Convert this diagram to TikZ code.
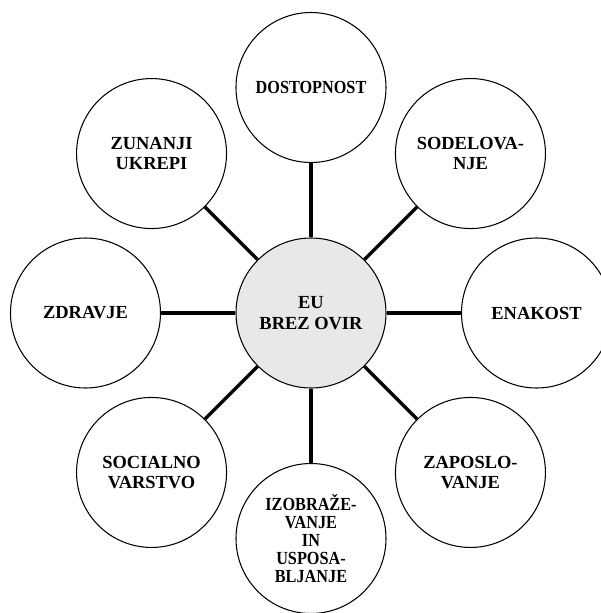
\documentclass[tikz,border=0pt]{standalone}
\usepackage{fontspec}
\setmainfont{Liberation Serif}
\newfontfamily\tightfont[FakeStretch=0.88]{Liberation Serif}
\definecolor{hubgray}{RGB}{232,232,232}
\begin{document}
\begin{tikzpicture}[line join=round, line cap=round]
	\tikzset{topic/.style={circle, draw, line width=0.6pt, minimum size=3cm, inner sep=0pt, align=center, fill=white, font=\bfseries\fontsize{10.5}{11.8}\selectfont},
		hub/.style={topic, fill=hubgray},
		spoke/.style={line width=2pt, line cap=butt}}
	\useasboundingbox (-6.22,-6.00) rectangle (5.80,6.26);
	% centre and the eight topics round it
	\node[hub] (hub) at (0,0) {EU\\BREZ OVIR};
	\node[topic] (dostop) at (90:4.51) {{\tightfont DOSTOPNOST}};
	\node[topic] (sodel) at (45:4.51) {SODELOVA-\\NJE};
	\node[topic] (enak) at (0:4.51) {ENAKOST};
	\node[topic] (zapos) at (-45:4.51) {ZAPOSLO-\\VANJE};
	\node[topic, font=\bfseries\tightfont\fontsize{10.5}{10.2}\selectfont] (izobr) at (-90:4.51) {IZOBRAŽE-\\VANJE\\IN\\USPOSA-\\BLJANJE};
	\node[topic] (social) at (-135:4.51) {SOCIALNO\\VARSTVO};
	\node[topic] (zdrav) at (180:4.51) {ZDRAVJE};
	\node[topic] (zunan) at (135:4.51) {ZUNANJI\\UKREPI};
	\foreach \n in {dostop,sodel,enak,zapos,izobr,social,zdrav,zunan}
		\draw[spoke] (hub) -- (\n);
\end{tikzpicture}
\end{document}
